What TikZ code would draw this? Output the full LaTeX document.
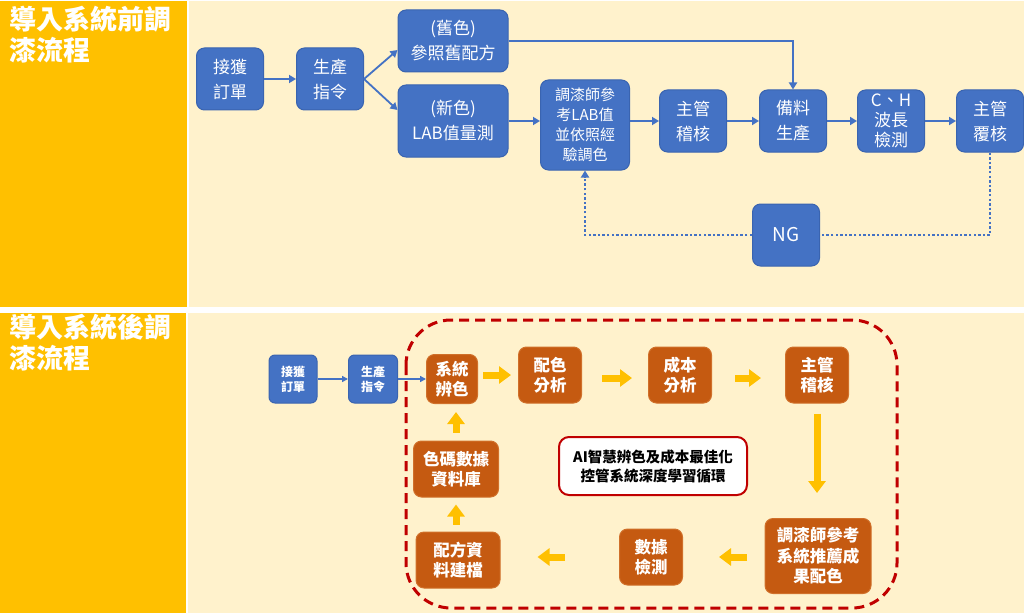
\documentclass[tikz,border=0pt]{standalone}
\usepackage{fontspec}
\setmainfont{Noto Sans CJK TC}
\usetikzlibrary{arrows.meta}
\definecolor{ybg}{HTML}{FFC000}
\definecolor{lbg}{HTML}{FFF2CC}
\definecolor{bbox}{HTML}{4472C4}
\definecolor{bedge}{HTML}{3A64B0}
\definecolor{obox}{HTML}{C55A11}
\definecolor{oedge}{HTML}{D0702A}
\definecolor{rline}{HTML}{C00000}
\tikzset{
  bluebox/.style={draw=bedge, line width=1pt, fill=bbox, rounded corners=8pt, text=white, align=center, inner sep=0pt, font=\fontsize{17}{25}\selectfont},
  smallblue/.style={draw=bedge, line width=1pt, fill=bbox, rounded corners=6pt, text=white, align=center, inner sep=0pt, font=\bfseries\fontsize{12}{15}\selectfont},
  orangebox/.style={draw=oedge, line width=1pt, fill=obox, rounded corners=8pt, text=white, align=center, inner sep=0pt, font=\bfseries\fontsize{16.5}{20.5}\selectfont},
  barrow/.style={draw=bbox, line width=1.8pt, -{Triangle[length=7pt,width=8pt]}},
  thinb/.style={draw=bbox, line width=1.5pt, -{Triangle[length=6pt,width=6pt]}},
  dotb/.style={draw=bbox, line width=2.4pt, dash pattern=on 2.4pt off 2.2pt},
  yarrow/.style={draw=ybg, line width=7pt, -{Triangle[length=12pt,width=17pt]}},
  title/.style={text=white, anchor=north west, align=left, inner sep=0pt, font=\bfseries\fontsize{27}{31}\selectfont},
}
\begin{document}
\begin{tikzpicture}[x=1pt,y=-1pt]
\useasboundingbox (0,0) rectangle (1024,615);
\fill[white] (0,0) rectangle (1024,615);
% panels
\fill[ybg] (0,1) rectangle (187,307);
\fill[lbg] (189,1) rectangle (1024,307);
\fill[ybg] (0,313) rectangle (186,613);
\fill[lbg] (188,313) rectangle (1024,613);
\node[title] (t1) at (9,6) {導入系統前調\\漆流程};
\node[title] (t2) at (9,314) {導入系統後調\\漆流程};

% ---------- top flow ----------
\node[bluebox, minimum width=67pt, minimum height=62pt] (a1) at (230,79) {接獲\\訂單};
\node[bluebox, minimum width=67pt, minimum height=62pt] (a2) at (330,79) {生產\\指令};
\node[bluebox, minimum width=110pt, minimum height=62pt] (old) at (453,41) {(舊色)\\參照舊配方};
\node[bluebox, minimum width=110pt, minimum height=72pt] (new) at (453,121) {(新色)\\LAB值量測};
\node[bluebox, minimum width=89pt, minimum height=90pt, font=\fontsize{15}{20}\selectfont] (mixer) at (585,125) {調漆師參\\考LAB值\\並依照經\\驗調色};
\node[bluebox, minimum width=67pt, minimum height=62pt] (chk) at (693,121) {主管\\稽核};
\node[bluebox, minimum width=67pt, minimum height=62pt] (prep) at (793,121) {備料\\生產};
\node[bluebox, minimum width=67pt, minimum height=62pt, font=\fontsize{17}{20}\selectfont] (ch) at (891,121) {C、H\\波長\\檢測};
\node[bluebox, minimum width=67pt, minimum height=62pt] (rev) at (990,121) {主管\\覆核};
\node[bluebox, minimum width=67pt, minimum height=62pt, font=\fontsize{19}{24}\selectfont] (ng) at (786,235) {NG};

\draw[barrow] (a1) -- (a2);
\draw[barrow] (a2.east) -- ([yshift=-9pt]old.west);
\draw[barrow] (a2.east) -- ([yshift=11pt]new.west);
\draw[barrow] (new) -- (mixer.west |- new);
\draw[barrow] (mixer.east |- chk) -- (chk);
\draw[barrow] (chk) -- (prep);
\draw[barrow] (old.east) -| (prep.north);
\draw[barrow] (prep) -- (ch);
\draw[barrow] (ch) -- (rev);
\draw[dotb] (rev.south) |- (ng.east);
\draw[dotb] (ng.west) -| ([yshift=-6pt]mixer.south);
\draw[draw=bbox, line width=1.8pt, -{Triangle[length=7pt,width=8pt]}] ([yshift=-6pt]mixer.south) -- (mixer.south);

% ---------- bottom flow ----------
\draw[rline, line width=3pt, dash pattern=on 10pt off 6pt, rounded corners=45pt] (406,320) rectangle (897,608);

\node[smallblue, minimum width=48pt, minimum height=48pt] (b1) at (293,379) {接獲\\訂單};
\node[smallblue, minimum width=49pt, minimum height=48pt] (b2) at (373,379) {生產\\指令};
\node[orangebox, minimum width=51pt, minimum height=49pt] (sysc) at (452,379) {系統\\辨色};
\node[orangebox, minimum width=63pt, minimum height=56pt] (mix) at (550,375) {配色\\分析};
\node[orangebox, minimum width=63pt, minimum height=56pt] (cost) at (680,375) {成本\\分析};
\node[orangebox, minimum width=63pt, minimum height=56pt] (boss) at (817,375) {主管\\稽核};
\node[orangebox, minimum width=85pt, minimum height=56pt] (db) at (456,469) {色碼數據\\資料庫};
\node[orangebox, minimum width=84pt, minimum height=56pt] (rec) at (458,560) {配方資\\料建檔};
\node[orangebox, minimum width=63pt, minimum height=56pt] (meas) at (651,557) {數據\\檢測};
\node[orangebox, minimum width=106pt, minimum height=75pt] (sug) at (818,556) {調漆師參考\\系統推薦成\\果配色};
\node[draw=rline, line width=2pt, fill=white, rounded corners=10pt, minimum width=188pt, minimum height=58pt, align=center, inner sep=0pt, font=\bfseries\fontsize{14.5}{19}\selectfont] (ai) at (653,466) {AI智慧辨色及成本最佳化\\控管系統深度學習循環};

\draw[thinb] (b1) -- (b2);
\draw[thinb] (b2) -- (sysc);
\draw[yarrow, shorten <=5pt, shorten >=7pt] (sysc.east |- mix.west) -- (mix.west);
\draw[yarrow, shorten <=20pt, shorten >=16pt] (mix.east |- 0,378) -- (cost.west |- 0,378);
\draw[yarrow, shorten <=23pt, shorten >=24pt] (cost.east |- 0,378) -- (boss.west |- 0,378);
\draw[yarrow, shorten <=10pt, shorten >=25pt] (boss.south) -- (boss.south |- sug.north);
\draw[yarrow, shorten <=18pt, shorten >=36pt] (sug.west |- meas) -- (meas.east);
\draw[yarrow, shorten <=54pt, shorten >=37pt] (meas.west) -- (rec.east |- meas);
\draw[yarrow, shorten <=7pt, shorten >=7pt] (rec.north -| db) -- (db.south);
\draw[yarrow, shorten <=8pt, shorten >=8pt] (db.north) -- (db.north |- sysc.south);
\end{tikzpicture}
\end{document}
